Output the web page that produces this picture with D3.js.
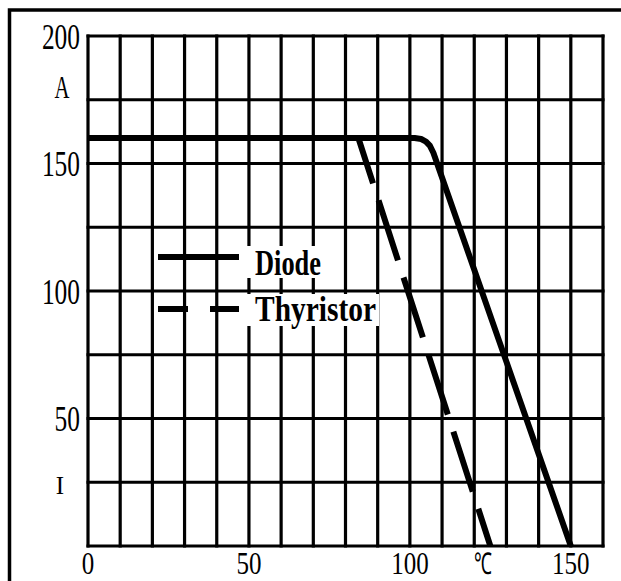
<!DOCTYPE html>
<html><head><meta charset="utf-8">
<script src="https://cdn.jsdelivr.net/npm/d3@7"></script>
<style>html,body{margin:0;padding:0;background:#fff;}svg{display:block;}</style>
</head><body>
<script>
// ---- data ----
const xTicks = [0, 50, 100, 150];
const yTicks = [50, 100, 150, 200];
const xGrid = d3.range(0, 161, 10);
const yGrid = d3.range(0, 201, 25);
const xUnit = "℃";
const yUnitTop = "A";
const yUnitBottom = "I";
const diodeT = [0, 101.5, 103.5, 105, 106.2, 107.3, 150];
const diodeI = [160, 160, 159.6, 158.6, 157, 154.2, 0];
const thyrT = [0, 84, 125];
const thyrI = [160, 160, 0];
const seriesNames = ["Diode", "Thyristor"];

const W = 621, H = 581;
const m = {l: 88, t: 36, r: 18, b: 35};
const svg = d3.select("body").append("svg").attr("width", W).attr("height", H);

const x = d3.scaleLinear().domain([0, 160]).range([m.l, W - m.r]);
const y = d3.scaleLinear().domain([0, 200]).range([H - m.b, m.t]);

// outer frame (top + left)
svg.append("path").attr("d", `M9.5,${H} L9.5,10 L${W},10`).attr("fill", "none").attr("stroke", "#000").attr("stroke-width", 3.5);

// grid
const g = svg.append("g");
g.selectAll(".vg").data(xGrid).join("line")
  .attr("x1", d => x(d)).attr("x2", d => x(d)).attr("y1", y(0) + 1.5).attr("y2", y(200) - 1.5)
  .attr("stroke", "#000").attr("stroke-width", 3.2);
g.selectAll(".hg").data(yGrid).join("line")
  .attr("y1", d => y(d)).attr("y2", d => y(d)).attr("x1", x(0) - 1.5).attr("x2", x(160) + 1.5)
  .attr("stroke", "#000").attr("stroke-width", 3.2);

// tick labels
const fnt = "'Liberation Serif','Times New Roman',serif";
svg.selectAll(".yl").data(yTicks).join("text")
  .attr("x", 80).attr("y", d => y(d)).attr("dy", "0.36em")
  .attr("text-anchor", "end").attr("font-family", fnt).attr("font-size", 35)
  .attr("textLength", d => String(d).length * 12.7).attr("lengthAdjust", "spacingAndGlyphs")
  .text(d => d);
svg.selectAll(".xl").data(xTicks).join("text")
  .attr("x", d => x(d)).attr("y", 574)
  .attr("text-anchor", "middle").attr("font-family", fnt).attr("font-size", 31)
  .attr("textLength", d => String(d).length * 12.5).attr("lengthAdjust", "spacingAndGlyphs")
  .text(d => d);
svg.append("text").attr("x", x(122.7)).attr("y", 574).attr("text-anchor", "middle")
  .attr("font-family", fnt).attr("font-size", 30).attr("textLength", 18).attr("lengthAdjust", "spacingAndGlyphs")
  .text(xUnit);
svg.append("text").attr("x", 62).attr("y", y(180)).attr("dy", "0.35em").attr("text-anchor", "middle")
  .attr("font-family", fnt).attr("font-size", 31).attr("textLength", 15).attr("lengthAdjust", "spacingAndGlyphs")
  .text(yUnitTop);
svg.append("text").attr("x", 60).attr("y", y(24)).attr("dy", "0.35em").attr("text-anchor", "middle")
  .attr("font-family", fnt).attr("font-size", 25)
  .text(yUnitBottom);

// series
const line = d3.line().x(d => x(d[0])).y(d => y(d[1]));
svg.append("path").datum(thyrT.map((t, i) => [t, thyrI[i]]))
  .attr("d", line).attr("fill", "none").attr("stroke", "#000").attr("stroke-width", 6)
  .attr("stroke-dasharray", "63,18").attr("stroke-dashoffset", 69);
svg.append("path").datum(diodeT.map((t, i) => [t, diodeI[i]]))
  .attr("d", line).attr("fill", "none").attr("stroke", "#000").attr("stroke-width", 6)
  .attr("stroke-linejoin", "round");

// legend
svg.append("rect").attr("x", 247).attr("y", 246).attr("width", 76).attr("height", 32).attr("fill", "#fff");
svg.append("rect").attr("x", 247).attr("y", 294).attr("width", 132).attr("height", 32).attr("fill", "#fff");
svg.append("line").attr("x1", 158).attr("x2", 239).attr("y1", 257).attr("y2", 257)
  .attr("stroke", "#000").attr("stroke-width", 6);
svg.append("line").attr("x1", 158).attr("x2", 239).attr("y1", 309).attr("y2", 309)
  .attr("stroke", "#000").attr("stroke-width", 6).attr("stroke-dasharray", "30,22");
svg.append("text").attr("x", 255).attr("y", 275).attr("font-family", fnt).attr("font-weight", "bold")
  .attr("font-size", 35).attr("textLength", 66).attr("lengthAdjust", "spacingAndGlyphs").text(seriesNames[0]);
svg.append("text").attr("x", 255).attr("y", 321).attr("font-family", fnt).attr("font-weight", "bold")
  .attr("font-size", 35).attr("textLength", 121).attr("lengthAdjust", "spacingAndGlyphs").text(seriesNames[1]);
</script>
</body></html>
